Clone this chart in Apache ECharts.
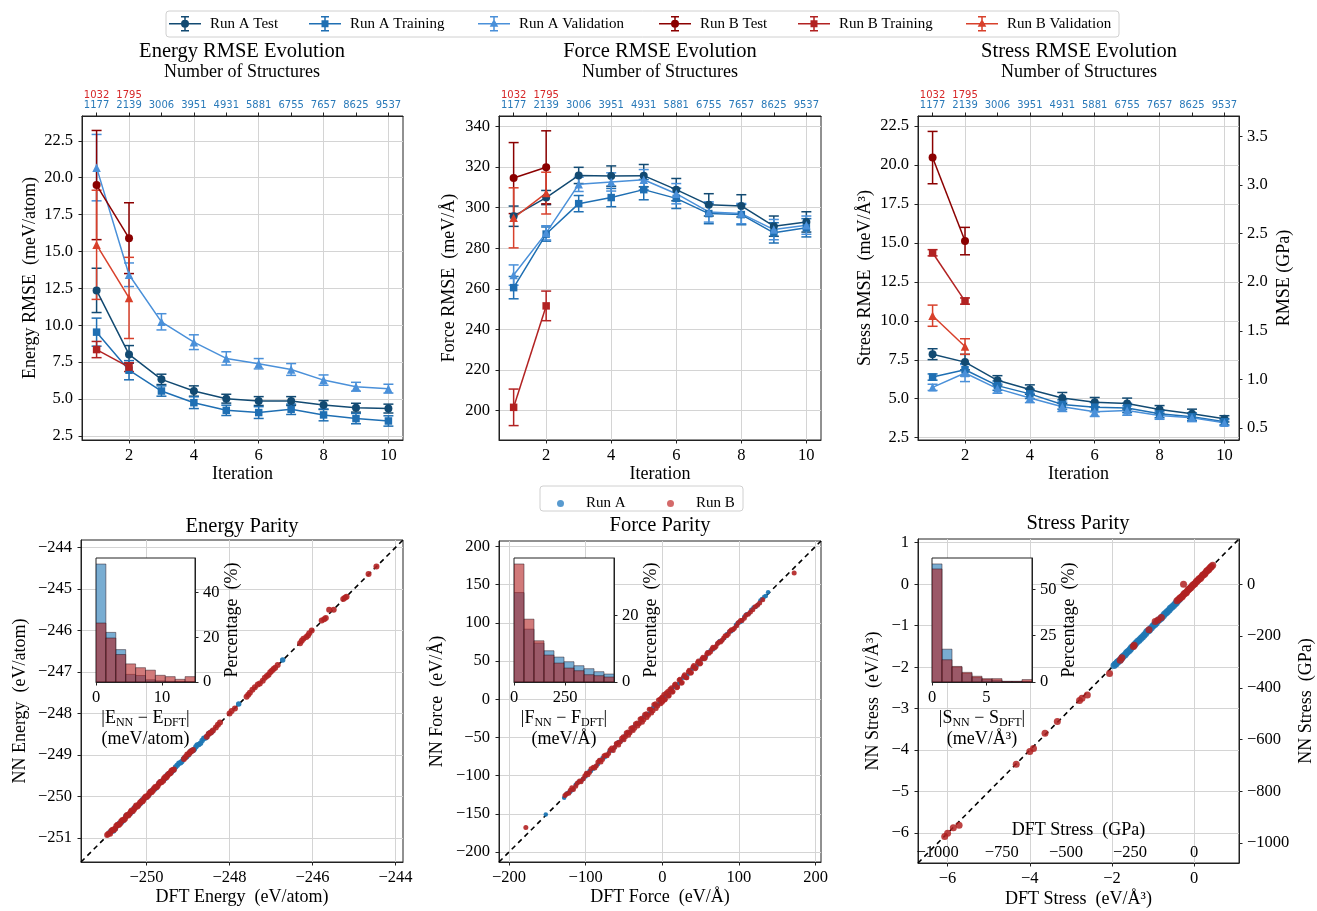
<!DOCTYPE html>
<html><head><meta charset="utf-8">
<script src="https://cdn.jsdelivr.net/npm/echarts@6/dist/echarts.min.js"></script>
<style>html,body{margin:0;padding:0;background:#fff}#c{width:1317px;height:911px}</style>
</head><body><div id="c"></div>
<script>
// ---------------- DATA ----------------
const iterations = [1,2,3,4,5,6,7,8,9,10];
const iterationsB = [1,2];
const structuresA = [1177,2139,3006,3951,4931,5881,6755,7657,8625,9537];
const structuresB = [1032,1795];

// Energy RMSE (meV/atom)
const energyATest = [12.36,8.02,6.33,5.54,5.02,4.86,4.86,4.59,4.41,4.35];
const energyATestErr = [1.5,0.6,0.35,0.35,0.3,0.3,0.3,0.3,0.3,0.3];
const energyATrain = [9.53,6.95,5.54,4.75,4.23,4.08,4.3,3.92,3.67,3.51];
const energyATrainErr = [0.95,0.65,0.35,0.4,0.35,0.4,0.35,0.4,0.35,0.35];
const energyAVal = [20.68,13.42,10.23,8.85,7.75,7.39,7.0,6.28,5.83,5.7];
const energyAValErr = [2.25,0.8,0.55,0.5,0.45,0.35,0.4,0.35,0.3,0.3];
const energyBTest = [19.5,15.9];
const energyBTestErr = [3.7,2.4];
const energyBTrain = [8.35,7.16];
const energyBTrainErr = [0.55,0.3];
const energyBVal = [15.45,11.85];
const energyBValErr = [3.7,2.75];

// Force RMSE (meV/A)
const forceATest = [295.8,305.0,315.9,315.6,315.8,308.9,301.4,300.9,290.9,293.0];
const forceATestErr = [5,3.5,4,5,5.5,5.5,5.5,5.5,5,5];
const forceATrain = [260.6,287.0,302.0,305.0,308.9,304.6,297.1,296.6,287.6,290.1];
const forceATrainErr = [5.5,3.5,4,4.5,5,5,5,5,5,4.5];
const forceAVal = [266.8,287.6,311.5,312.7,313.8,306.9,297.9,297.1,289.2,291.4];
const forceAValErr = [5,3.5,3.5,4.5,5,5,5,5,5,4.5];
const forceBTest = [314.6,319.9];
const forceBTestErr = [17.5,18];
const forceBTrain = [201.6,251.6];
const forceBTrainErr = [9,7.3];
const forceBVal = [295.0,307.2];
const forceBValErr = [14.8,10.3];

// Stress RMSE (meV/A^3)
const stressATest = [7.86,7.35,6.18,5.59,5.05,4.78,4.69,4.31,4.03,3.71];
const stressATestErr = [0.35,0.5,0.3,0.3,0.35,0.3,0.35,0.25,0.3,0.2];
const stressATrain = [6.39,6.86,5.84,5.31,4.63,4.46,4.41,4.03,3.84,3.52];
const stressATrainErr = [0.2,0.4,0.3,0.3,0.3,0.3,0.3,0.25,0.25,0.2];
const stressAVal = [5.73,6.65,5.65,5.05,4.48,4.16,4.24,3.93,3.78,3.46];
const stressAValErr = [0.2,0.55,0.3,0.3,0.3,0.3,0.3,0.25,0.25,0.2];
const stressBTest = [20.48,15.12];
const stressBTestErr = [1.68,0.88];
const stressBTrain = [14.37,11.27];
const stressBTrainErr = [0.2,0.2];
const stressBVal = [10.33,8.35];
const stressBValErr = [0.68,0.5];

// Parity points [DFT, NN]
const energyParityA = [[-250.88,-250.86],[-250.84,-250.82],[-250.8,-250.83],[-250.75,-250.77],[-250.7,-250.69],[-250.65,-250.64],[-250.6,-250.62],[-250.55,-250.57],[-250.5,-250.48],[-250.45,-250.44],[-250.4,-250.42],[-250.35,-250.37],[-250.3,-250.28],[-250.25,-250.24],[-250.2,-250.22],[-250.15,-250.17],[-250.1,-250.08],[-250.05,-250.04],[-250.0,-250.02],[-249.95,-249.97],[-249.9,-249.88],[-249.85,-249.84],[-249.8,-249.82],[-249.75,-249.77],[-249.7,-249.68],[-249.65,-249.64],[-249.6,-249.61],[-249.55,-249.57],[-249.5,-249.48],[-249.45,-249.44],[-249.4,-249.42],[-249.35,-249.37],[-249.3,-249.29],[-249.26,-249.25],[-249.22,-249.2],[-249.18,-249.19],[-249.15,-249.16],[-249.11,-249.1],[-249.08,-249.06],[-249.04,-249.05],[-249.0,-249.01],[-248.96,-248.95],[-248.92,-248.9],[-248.88,-248.89],[-248.85,-248.86],[-248.81,-248.8],[-248.78,-248.76],[-248.74,-248.75],[-248.7,-248.72],[-248.66,-248.65],[-248.62,-248.6],[-248.58,-248.59],[-248.55,-248.56],[-248.51,-248.5],[-248.48,-248.47],[-248.45,-248.46],[-248.42,-248.43],[-247.78,-247.77],[-246.72,-246.71]];
const energyParityB = [[-250.95,-250.93],[-250.92,-250.9],[-250.88,-250.9],[-250.85,-250.83],[-250.82,-250.8],[-250.79,-250.81],[-250.76,-250.78],[-250.73,-250.71],[-250.7,-250.68],[-250.67,-250.69],[-250.64,-250.66],[-250.61,-250.6],[-250.58,-250.57],[-250.55,-250.57],[-250.52,-250.54],[-250.49,-250.47],[-250.47,-250.45],[-250.44,-250.46],[-250.41,-250.42],[-250.38,-250.37],[-250.36,-250.34],[-250.33,-250.35],[-250.3,-250.31],[-250.27,-250.26],[-250.25,-250.22],[-250.22,-250.24],[-250.19,-250.2],[-250.16,-250.15],[-250.13,-250.12],[-250.1,-250.12],[-250.08,-250.09],[-250.05,-250.04],[-250.02,-250.0],[-249.99,-250.01],[-249.96,-249.97],[-249.93,-249.92],[-249.9,-249.88],[-249.88,-249.9],[-249.85,-249.86],[-249.82,-249.81],[-249.79,-249.77],[-249.76,-249.78],[-249.73,-249.74],[-249.7,-249.69],[-249.67,-249.65],[-249.64,-249.66],[-249.6,-249.62],[-249.58,-249.57],[-249.55,-249.53],[-249.52,-249.54],[-249.5,-249.5],[-249.47,-249.46],[-249.44,-249.45],[-249.42,-249.43],[-249.4,-249.38],[-249.37,-249.36],[-249.34,-249.35],[-249.1,-249.1],[-249.06,-249.05],[-249.02,-248.99],[-248.98,-248.98],[-248.95,-248.93],[-248.92,-248.91],[-248.88,-248.88],[-248.55,-248.56],[-248.5,-248.49],[-248.45,-248.46],[-248.4,-248.41],[-248.33,-248.34],[-248.28,-248.27],[-248.23,-248.22],[-248.0,-248.0],[-247.95,-247.94],[-247.87,-247.88],[-247.59,-247.6],[-247.55,-247.55],[-247.51,-247.5],[-247.45,-247.43],[-247.39,-247.37],[-247.32,-247.3],[-247.27,-247.28],[-247.2,-247.21],[-247.15,-247.14],[-247.1,-247.1],[-247.06,-247.07],[-247.02,-247.01],[-246.98,-246.97],[-246.94,-246.93],[-246.9,-246.9],[-246.84,-246.83],[-246.3,-246.31],[-246.26,-246.25],[-246.22,-246.2],[-246.15,-246.16],[-246.11,-246.12],[-246.08,-246.07],[-246.02,-246.0],[-245.78,-245.76],[-245.72,-245.73],[-245.68,-245.7],[-245.6,-245.5],[-245.49,-245.5],[-245.26,-245.24],[-245.22,-245.21],[-245.18,-245.19],[-244.65,-244.64],[-244.46,-244.46]];

const forceParityA = [[-152,-151],[-128,-129],[-126,-125],[-124,-123],[-122,-122],[-120,-121],[-118,-119],[-116,-117],[-113,-112],[-110,-109],[-108,-108],[-105,-106],[-103,-104],[-100,-101],[-98,-97],[-95,-94],[-93,-94],[-90,-91],[-87,-88],[-84,-85],[-81,-80],[-78,-77],[-75,-76],[-72,-73],[-69,-68],[-66,-67],[-63,-64],[-60,-59],[-57,-56],[-54,-55],[-51,-52],[-48,-47],[-45,-44],[-42,-43],[-39,-40],[-36,-35],[-33,-32],[-30,-31],[-27,-28],[-24,-23],[-21,-20],[-18,-19],[-15,-16],[-12,-11],[-9,-8],[-6,-7],[-3,-4],[0,1],[3,4],[6,5],[9,8],[12,13],[15,16],[18,17],[21,20],[24,25],[27,28],[30,29],[33,32],[36,37],[39,40],[42,41],[45,44],[48,49],[51,52],[54,53],[57,56],[60,61],[63,64],[66,65],[69,68],[72,73],[75,76],[78,77],[81,80],[84,85],[87,88],[90,89],[93,92],[96,97],[98,99],[100,101],[102,101],[104,103],[107,108],[110,111],[113,112],[116,117],[119,120],[122,121],[125,124],[128,129],[130,131],[133,134],[135,135],[138,140]];
const forceParityB = [[-127,-126],[-125,-124],[-122,-123],[-120,-119],[-118,-116],[-116,-118],[-113,-114],[-111,-110],[-108,-107],[-106,-108],[-103,-104],[-101,-100],[-99,-97],[-97,-99],[-95,-96],[-93,-91],[-90,-89],[-88,-90],[-86,-87],[-84,-82],[-82,-80],[-80,-82],[-78,-79],[-76,-74],[-74,-73],[-72,-74],[-70,-71],[-68,-66],[-66,-64],[-64,-67],[-62,-63],[-60,-58],[-58,-57],[-57,-60],[-55,-56],[-53,-51],[-51,-49],[-50,-53],[-48,-49],[-47,-44],[-45,-43],[-44,-47],[-42,-44],[-41,-38],[-39,-37],[-38,-41],[-36,-38],[-35,-32],[-33,-31],[-32,-35],[-30,-32],[-29,-26],[-27,-25],[-26,-30],[-24,-27],[-23,-20],[-21,-19],[-20,-24],[-18,-21],[-17,-13],[-15,-13],[-14,-18],[-12,-15],[-11,-7],[-9,-6],[-8,-12],[-6,-9],[-5,-1],[-3,0],[-2,-6],[-1,2],[0,-4],[0,3],[1,-2],[2,6],[3,-1],[4,0],[5,8],[7,10],[8,4],[9,5],[10,13],[12,15],[13,9],[14,10],[16,19],[17,20],[19,15],[20,16],[22,25],[23,26],[25,21],[26,22],[28,30],[29,32],[31,28],[32,28],[34,36],[35,38],[37,34],[38,35],[40,42],[41,44],[43,40],[44,41],[46,48],[47,50],[49,46],[50,47],[52,53],[53,55],[55,53],[56,54],[58,59],[59,61],[61,60],[63,62],[65,66],[66,68],[68,67],[70,69],[72,73],[74,75],[76,75],[78,77],[80,80],[82,83],[84,83],[86,85],[88,89],[90,91],[92,91],[94,93],[97,96],[99,100],[102,103],[104,103],[107,106],[109,110],[112,111],[115,114],[118,117],[121,121],[124,123],[127,126],[131,130],[-178,-168],[172,165]];

const stressParityA = [[-1.95,-1.96],[-1.92,-1.93],[-1.9,-1.92],[-1.87,-1.88],[-1.85,-1.86],[-1.81,-1.83],[-1.78,-1.8],[-1.75,-1.76],[-1.72,-1.73],[-1.68,-1.7],[-1.65,-1.66],[-1.62,-1.63],[-1.58,-1.6],[-1.55,-1.56],[-1.52,-1.52],[-1.48,-1.49],[-1.45,-1.46],[-1.42,-1.42],[-1.38,-1.38],[-1.34,-1.35],[-1.3,-1.31],[-1.26,-1.27],[-1.22,-1.23],[-1.18,-1.19],[-1.15,-1.14],[-1.11,-1.12],[-1.08,-1.09],[-1.04,-1.05],[-1.0,-1.0],[-0.96,-0.97],[-0.93,-0.94],[-0.9,-0.9],[-0.86,-0.86],[-0.82,-0.83],[-0.79,-0.8],[-0.75,-0.76],[-0.72,-0.72],[-0.68,-0.69],[-0.65,-0.66],[-0.61,-0.62],[-0.58,-0.58],[-0.54,-0.55],[-0.5,-0.51],[-0.46,-0.47],[-0.43,-0.44],[-0.4,-0.4],[-0.36,-0.36]];
const stressParityB = [[0.45,0.46],[0.42,0.43],[0.4,0.41],[0.37,0.38],[0.35,0.35],[0.32,0.33],[0.3,0.31],[0.27,0.27],[0.25,0.24],[0.22,0.23],[0.2,0.21],[0.17,0.17],[0.15,0.14],[0.12,0.13],[0.1,0.1],[0.07,0.08],[0.05,0.06],[0.02,0.02],[0.0,0.0],[-0.03,-0.02],[-0.05,-0.04],[-0.08,-0.08],[-0.1,-0.1],[-0.13,-0.12],[-0.15,-0.14],[-0.18,-0.18],[-0.2,-0.21],[-0.23,-0.22],[-0.25,-0.24],[-0.28,-0.28],[-0.3,-0.31],[-0.33,-0.32],[-0.35,-0.34],[-0.38,-0.37],[-0.42,-0.4],[-0.26,0.0],[-0.8,-0.8],[-0.88,-0.86],[-0.95,-0.9],[-1.1,-1.1],[-1.48,-1.5],[-1.46,-1.47],[-1.76,-1.77],[-1.8,-1.83],[-2.06,-2.15],[-2.6,-2.67],[-2.73,-2.75],[-2.79,-2.8],[-3.33,-3.31],[-3.63,-3.59],[-3.91,-3.96],[-4.0,-4.03],[-4.33,-4.34],[-5.72,-5.81],[-5.86,-5.87],[-6.0,-6.0],[-6.07,-6.08]];

// Error histograms (percentage per bin)
const energyBinEdges = [0,1.5,3,4.5,6,7.5,9,10.5,12,13.5,15];
const energyHistA = [52.8,22.2,14.5,3.4,2.9,1.0,0.5,0.3,0.2,0.1];
const energyHistB = [26.4,19.7,12.3,8.1,6.4,5.3,3.0,2.4,1.2,2.4];
const forceBinEdges = [0,49,98,147,196,245,294,343,392,441,490];
const forceHistA = [26.9,15.9,11.7,9.4,7.5,6.1,4.9,4.0,3.1,2.4];
const forceHistB = [35.5,18.9,12.4,8.1,5.7,4.2,3.4,2.2,1.9,1.5];
const stressBinEdges = [0,0.92,1.84,2.76,3.68,4.6,5.52,6.44,7.36,8.28,9.2];
const stressHistA = [63.7,17.7,8.0,4.6,2.4,1.3,1.0,0.2,0.2,0.3];
const stressHistB = [61.0,12.0,8.4,5.2,3.1,1.8,1.8,0.4,0.4,1.3];

// Tick labels
const iterTicks = [2,4,6,8,10];
const energyRmseTicks = [2.5,5,7.5,10,12.5,15,17.5,20,22.5];
const forceRmseTicks = [200,220,240,260,280,300,320,340];
const stressRmseTicks = [2.5,5,7.5,10,12.5,15,17.5,20,22.5];
const stressGpaTicks = [0.5,1.0,1.5,2.0,2.5,3.0,3.5];
const energyParityXTicks = [-250,-248,-246,-244];
const energyParityYTicks = [-251,-250,-249,-248,-247,-246,-245,-244];
const forceParityXTicks = [-200,-100,0,100,200];
const forceParityYTicks = [-200,-150,-100,-50,0,50,100,150,200];
const stressParityXTicks = [-6,-4,-2,0];
const stressParityYTicks = [-6,-5,-4,-3,-2,-1,0,1];
const stressParityGpaYTicks = [-1000,-800,-600,-400,-200,0];
const stressParityGpaXTicks = [-1000,-750,-500,-250,0];
const GPA_PER_EVA3 = 160.2177;

// ---------------- STYLE / BUILD ----------------
const FONT = '"Liberation Serif","DejaVu Serif",serif';
const AX = '#222';
const GRIDC = '#d4d4d4';
const colors = {
  'Run A Test':'#124a72','Run A Training':'#1f6fb3','Run A Validation':'#4a90d9',
  'Run B Test':'#8b0000','Run B Training':'#b22222','Run B Validation':'#d8402b'
};
const symbols = {
  'Run A Test':['circle',8],'Run A Training':['rect',7.5],'Run A Validation':['triangle',8.5],
  'Run B Test':['circle',8],'Run B Training':['rect',7.5],'Run B Validation':['triangle',8.5]
};
const BAR = 'M0 7.25h32v1.5H0z M15.25 1h1.5v14h-1.5z M12 0.25h8v1.5h-8z M12 14.25h8v1.5h-8z ';
const icons = {
  circle: 'path://' + BAR + 'M20 8a4 4 0 1 1 -8 0a4 4 0 1 1 8 0z',
  rect: 'path://' + BAR + 'M12.5 4.5h7v7h-7z',
  triangle: 'path://' + BAR + 'M16 3.3l4.3 7.6h-8.6z'
};
const fmt1 = v => v.toFixed(1);
const fmtInt = v => String(Math.round(v)).replace('-', '\u2212');

function valAxis(o) {
  return {
    type:'value', gridIndex:o.grid, min:o.min, max:o.max, position:o.pos,
    axisLine:{show:o.line!==false, onZero:false, lineStyle:{color:AX,width:1}},
    axisTick:{show:o.tick!==false, inside:false, length:3.5, lineStyle:{color:AX,width:1}, customValues:o.ticks},
    axisLabel:Object.assign({customValues:o.ticks, formatter:o.fmt, color:'#000', fontFamily:FONT, fontSize:o.fs||16.5, margin:o.margin==null?7:o.margin}, o.label||{}),
    splitLine:{show:o.split!==false, lineStyle:{color:GRIDC,width:1}},
    name:o.name||'', nameLocation:'middle', nameGap:o.nameGap||30, nameRotate:o.nameRotate,
    nameTextStyle:Object.assign({fontFamily:FONT, fontSize:18, color:'#000'}, o.nameStyle||{}),
    z:o.z||0, silent:true
  };
}
function topStructAxis(g) {
  return valAxis({grid:g, pos:'top', min:0.55, max:10.45, ticks:iterations, split:false, margin:5,
    fmt: v => { const i = Math.round(v) - 1; return i < structuresB.length ? '{r|' + structuresB[i] + '}\n{b|' + structuresA[i] + '}' : '{b|' + structuresA[i] + '}'; },
    label:{rich:{r:{color:'#d62728',fontFamily:'DejaVu Sans',fontSize:10,lineHeight:10},b:{color:'#2a7ab9',fontFamily:'DejaVu Sans',fontSize:10,lineHeight:11}}}});
}
function iterAxis(g) {
  return valAxis({grid:g, pos:'bottom', min:0.55, max:10.45, ticks:iterTicks, fmt:fmtInt, name:'Iteration', nameGap:25});
}

function errRender(color) {
  return function (params, api) {
    const x = api.value(0), y = api.value(1), e = api.value(2);
    const p1 = api.coord([x, y + e]), p2 = api.coord([x, y - e]);
    const w = 5, st = {stroke:color, lineWidth:1.5};
    return {type:'group', children:[
      {type:'line', shape:{x1:p1[0],y1:p1[1],x2:p2[0],y2:p2[1]}, style:st},
      {type:'line', shape:{x1:p1[0]-w,y1:p1[1],x2:p1[0]+w,y2:p1[1]}, style:st},
      {type:'line', shape:{x1:p2[0]-w,y1:p2[1],x2:p2[0]+w,y2:p2[1]}, style:st}
    ]};
  };
}
function rmse(name, xi, yi, xs, ys, es) {
  const c = colors[name], s = symbols[name];
  return [
    {type:'custom', name, xAxisIndex:xi, yAxisIndex:yi, renderItem:errRender(c), data:xs.map((x,i)=>[x,ys[i],es[i]]), encode:{x:0,y:1}, itemStyle:{color:c}, z:2, silent:true, clip:false},
    {type:'line', name, xAxisIndex:xi, yAxisIndex:yi, data:xs.map((x,i)=>[x,ys[i]]), symbol:s[0], symbolSize:s[1], showAllSymbol:true,
     lineStyle:{color:c,width:1.5}, itemStyle:{color:c, borderWidth:0}, z:2, silent:true, animation:false}
  ];
}
function histRender(fill) {
  return function (params, api) {
    const p0 = api.coord([api.value(0), 0]);
    const p1 = api.coord([api.value(1), api.value(2)]);
    return {type:'rect', shape:{x:p0[0], y:p1[1], width:p1[0]-p0[0], height:p0[1]-p1[1]},
      style:{fill:fill, stroke:'rgba(40,20,30,0.6)', lineWidth:0.8}};
  };
}
function hist(name, xi, yi, edges, vals, fill) {
  return {type:'custom', name, xAxisIndex:xi, yAxisIndex:yi, renderItem:histRender(fill),
    data:vals.map((v,i)=>[edges[i], edges[i+1], v]), encode:{x:[0,1], y:2}, z:5, silent:true, clip:true};
}
function scatter(name, xi, yi, pts, color, size, op) {
  return {type:'scatter', name, xAxisIndex:xi, yAxisIndex:yi, data:pts, symbol:'circle', symbolSize:size,
    itemStyle:{color:color, opacity:op}, z:2, silent:true, large:false};
}
function diag(xi, yi, lo, hi) {
  return {type:'line', xAxisIndex:xi, yAxisIndex:yi, data:[[lo,lo],[hi,hi]], symbol:'none',
    lineStyle:{color:'#000', width:1.6, type:[5,4]}, z:1, silent:true};
}

const E_LO = -251.58, E_HI = -243.82;
const F_LO = -213, F_HI = 207;
const S_LO = -6.72, S_HI = 1.09;
const SR_LO = 2.35, SR_HI = 23.15;

const grids = [
  {left:82, top:116, width:321, height:324},
  {left:499, top:116, width:322, height:324},
  {left:918, top:116, width:321, height:324},
  {left:81, top:540, width:322, height:322},
  {left:499, top:541, width:322, height:321},
  {left:918, top:539, width:321, height:324},
  {left:96, top:558, width:99, height:124, z:1},
  {left:514, top:558, width:100, height:124, z:1},
  {left:932, top:558, width:100, height:124, z:1}
].map(g => Object.assign({show:true, backgroundColor:'#fff', borderColor:AX, borderWidth:1, containLabel:false}, g));

const insetName = (sym, unit) => ({
  name: '|' + sym + '{s|NN} \u2212 ' + sym + '{s|DFT}|\n' + unit,
  nameStyle:{fontSize:18, lineHeight:21, rich:{s:{fontFamily:FONT, fontSize:12, verticalAlign:'bottom', padding:[6,0,0,0]}}}
});
function insetX(grid, max, ticks, sym, unit) {
  const a = valAxis({grid:grid, pos:'bottom', min:0, max:max, ticks:ticks, fmt:fmtInt, split:false, nameGap:26, z:6});
  const n = insetName(sym, unit);
  a.name = n.name;
  a.nameTextStyle = Object.assign({fontFamily:FONT, color:'#000'}, n.nameStyle);
  return a;
}

const xAxis = [
  iterAxis(0), topStructAxis(0), iterAxis(1), topStructAxis(1), iterAxis(2), topStructAxis(2),
  valAxis({grid:3, pos:'bottom', min:E_LO, max:E_HI, ticks:energyParityXTicks, fmt:fmtInt, name:'DFT Energy  (eV/atom)', nameGap:26}),
  valAxis({grid:4, pos:'bottom', min:F_LO, max:F_HI, ticks:forceParityXTicks, fmt:fmtInt, name:'DFT Force  (eV/\u00c5)', nameGap:26}),
  valAxis({grid:5, pos:'bottom', min:S_LO, max:S_HI, ticks:stressParityXTicks, fmt:fmtInt, name:'DFT Stress  (eV/\u00c5\u00b3)', nameGap:27}),
  valAxis({grid:5, pos:'bottom', min:S_LO*GPA_PER_EVA3, max:S_HI*GPA_PER_EVA3, ticks:stressParityGpaXTicks, fmt:fmtInt,
    line:false, tick:false, split:false, margin:2, label:{inside:true}, name:'DFT Stress  (GPa)', nameGap:-42}),
  insetX(6, energyBinEdges[energyBinEdges.length-1], [0,10], 'E', '(meV/atom)'),
  insetX(7, forceBinEdges[forceBinEdges.length-1], [0,250], 'F', '(meV/\u00c5)'),
  insetX(8, stressBinEdges[stressBinEdges.length-1], [0,5], 'S', '(meV/\u00c5\u00b3)')
];

const yAxis = [
  valAxis({grid:0, pos:'left', min:2.22, max:24.18, ticks:energyRmseTicks, fmt:fmt1, margin:9, name:'Energy RMSE  (meV/atom)', nameGap:43}),
  valAxis({grid:1, pos:'left', min:185.5, max:345.2, ticks:forceRmseTicks, fmt:fmtInt, margin:9, name:'Force RMSE  (meV/\u00c5)', nameGap:41}),
  valAxis({grid:2, pos:'left', min:SR_LO, max:SR_HI, ticks:stressRmseTicks, fmt:fmt1, margin:9, name:'Stress RMSE  (meV/\u00c5\u00b3)', nameGap:44}),
  valAxis({grid:2, pos:'right', min:SR_LO*GPA_PER_EVA3/1000, max:SR_HI*GPA_PER_EVA3/1000, ticks:stressGpaTicks, fmt:fmt1, margin:8, split:false, name:'RMSE (GPa)', nameGap:36, nameRotate:90}),
  valAxis({grid:3, pos:'left', min:E_LO, max:E_HI, ticks:energyParityYTicks, fmt:fmtInt, margin:9, name:'NN Energy  (eV/atom)', nameGap:52}),
  valAxis({grid:4, pos:'left', min:F_LO, max:F_HI, ticks:forceParityYTicks, fmt:fmtInt, margin:9, name:'NN Force  (eV/\u00c5)', nameGap:53}),
  valAxis({grid:5, pos:'left', min:S_LO, max:S_HI, ticks:stressParityYTicks, fmt:fmtInt, margin:9, name:'NN Stress  (eV/\u00c5\u00b3)', nameGap:36}),
  valAxis({grid:5, pos:'right', min:S_LO*GPA_PER_EVA3, max:S_HI*GPA_PER_EVA3, ticks:stressParityGpaYTicks, fmt:fmtInt, margin:8, split:false, name:'NN Stress  (GPa)', nameGap:58, nameRotate:90}),
  valAxis({grid:6, pos:'right', min:0, max:55.5, ticks:[0,20,40], fmt:fmtInt, margin:8, split:false, name:'Percentage  (%)', nameGap:27, nameRotate:90, z:6}),
  valAxis({grid:7, pos:'right', min:0, max:37.3, ticks:[0,20], fmt:fmtInt, margin:8, split:false, name:'Percentage  (%)', nameGap:27, nameRotate:90, z:6}),
  valAxis({grid:8, pos:'right', min:0, max:66.9, ticks:[0,25,50], fmt:fmtInt, margin:8, split:false, name:'Percentage  (%)', nameGap:27, nameRotate:90, z:6})
];

const series = [].concat(
  rmse('Run A Test',0,0,iterations,energyATest,energyATestErr),
  rmse('Run A Training',0,0,iterations,energyATrain,energyATrainErr),
  rmse('Run A Validation',0,0,iterations,energyAVal,energyAValErr),
  rmse('Run B Test',0,0,iterationsB,energyBTest,energyBTestErr),
  rmse('Run B Training',0,0,iterationsB,energyBTrain,energyBTrainErr),
  rmse('Run B Validation',0,0,iterationsB,energyBVal,energyBValErr),
  rmse('Run A Test',2,1,iterations,forceATest,forceATestErr),
  rmse('Run A Training',2,1,iterations,forceATrain,forceATrainErr),
  rmse('Run A Validation',2,1,iterations,forceAVal,forceAValErr),
  rmse('Run B Test',2,1,iterationsB,forceBTest,forceBTestErr),
  rmse('Run B Training',2,1,iterationsB,forceBTrain,forceBTrainErr),
  rmse('Run B Validation',2,1,iterationsB,forceBVal,forceBValErr),
  rmse('Run A Test',4,2,iterations,stressATest,stressATestErr),
  rmse('Run A Training',4,2,iterations,stressATrain,stressATrainErr),
  rmse('Run A Validation',4,2,iterations,stressAVal,stressAValErr),
  rmse('Run B Test',4,2,iterationsB,stressBTest,stressBTestErr),
  rmse('Run B Training',4,2,iterationsB,stressBTrain,stressBTrainErr),
  rmse('Run B Validation',4,2,iterationsB,stressBVal,stressBValErr),
  [
    diag(6,4,E_LO,E_HI),
    scatter('Run A',6,4,energyParityA,'#1f77b4',5.5,0.95),
    scatter('Run B',6,4,energyParityB,'#b22222',6,0.9),
    diag(7,5,F_LO,F_HI),
    scatter('Run A',7,5,forceParityA,'#1f77b4',4.5,0.95),
    scatter('Run B',7,5,forceParityB,'#b22222',5,0.9),
    diag(8,6,S_LO,S_HI),
    scatter('Run A',8,6,stressParityA,'#1f77b4',7,0.9),
    scatter('Run B',8,6,stressParityB,'#b22222',7,0.85),
    hist('Run A hist',10,8,energyBinEdges,energyHistA,'rgba(31,119,180,0.6)'),
    hist('Run B hist',10,8,energyBinEdges,energyHistB,'rgba(178,34,34,0.6)'),
    hist('Run A hist',11,9,forceBinEdges,forceHistA,'rgba(31,119,180,0.6)'),
    hist('Run B hist',11,9,forceBinEdges,forceHistB,'rgba(178,34,34,0.6)'),
    hist('Run A hist',12,10,stressBinEdges,stressHistA,'rgba(31,119,180,0.6)'),
    hist('Run B hist',12,10,stressBinEdges,stressHistB,'rgba(178,34,34,0.6)')
  ]
);

const legendNames = ['Run A Test','Run A Training','Run A Validation','Run B Test','Run B Training','Run B Validation'];
const legendLefts = [169,309,478,659,798,966];
const legends = legendNames.map((n,i) => ({
  data:[{name:n, icon:icons[symbols[n][0]]}], left:legendLefts[i], top:16, padding:0,
  itemWidth:32, itemHeight:16, selectedMode:false,
  textStyle:{fontFamily:FONT, fontSize:15, color:'#000', padding:[0,0,0,4]}
})).concat([
  {data:[{name:'Run A', icon:'circle', itemStyle:{color:'#4f95cc'}}], left:557, top:496, padding:0, itemWidth:7, itemHeight:7, selectedMode:false,
   textStyle:{fontFamily:FONT, fontSize:15, color:'#000', padding:[0,0,0,17]}},
  {data:[{name:'Run B', icon:'circle', itemStyle:{color:'#cf5a5a'}}], left:667, top:496, padding:0, itemWidth:7, itemHeight:7, selectedMode:false,
   textStyle:{fontFamily:FONT, fontSize:15, color:'#000', padding:[0,0,0,17]}}
]);

function txt(x, y, s, size) {
  return {type:'text', x:x, y:y, silent:true, style:{text:s, fill:'#000', fontFamily:FONT, fontSize:size, align:'center', verticalAlign:'middle'}};
}
const graphic = [
  {type:'rect', shape:{x:166, y:11, width:953, height:26, r:3}, style:{fill:'#fff', stroke:'#d0d0d0', lineWidth:1}, silent:true, z:-1},
  {type:'rect', shape:{x:540, y:486, width:203, height:25, r:3}, style:{fill:'#fff', stroke:'#d0d0d0', lineWidth:1}, silent:true, z:-1},
  txt(242,52,'Energy RMSE Evolution',20.5), txt(242,72,'Number of Structures',18),
  txt(660,52,'Force RMSE Evolution',20.5), txt(660,72,'Number of Structures',18),
  txt(1079,52,'Stress RMSE Evolution',20.5), txt(1079,72,'Number of Structures',18),
  txt(242,527,'Energy Parity',20.5), txt(660,526,'Force Parity',20.5), txt(1078,524,'Stress Parity',20.5)
];

const chart = echarts.init(document.getElementById('c'), null, {renderer:'canvas'});
chart.setOption({
  animation:false,
  backgroundColor:'#fff',
  textStyle:{fontFamily:FONT},
  grid:grids, xAxis:xAxis, yAxis:yAxis, series:series, legend:legends, graphic:graphic
});
</script>
</body></html>
